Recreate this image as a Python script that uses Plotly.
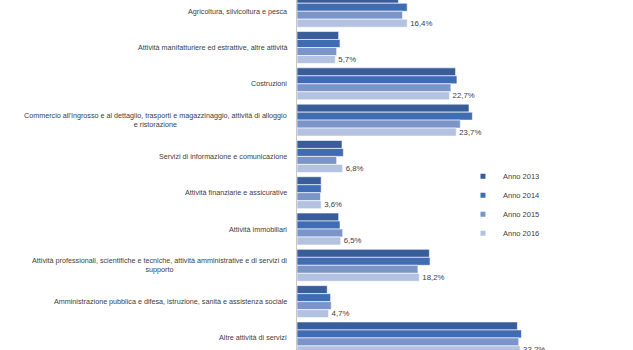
import plotly.graph_objects as go

# Sector labels (top to bottom) and share of each sector per year (%)
categories = [
    "Agricoltura, silvicoltura e pesca",
    "Attività manifatturiere ed estrattive, altre attività",
    "Costruzioni",
    "Commercio all'ingrosso e al dettaglio, trasporti e magazzinaggio, attività di alloggio<br>e ristorazione",
    "Servizi di informazione e comunicazione",
    "Attività finanziarie e assicurative",
    "Attività immobiliari",
    "Attività professionali, scientifiche e tecniche, attività amministrative e di servizi di<br>supporto",
    "Amministrazione pubblica e difesa, istruzione, sanità e assistenza sociale",
    "Altre attività di servizi",
]
years = ["Anno 2013", "Anno 2014", "Anno 2015", "Anno 2016"]
anno_2013 = [15.1, 6.2, 23.6, 25.6, 6.7, 3.6, 6.2, 19.7, 4.5, 32.8]
anno_2014 = [16.4, 6.4, 23.8, 26.1, 6.9, 3.6, 6.4, 19.8, 5.0, 33.4]
anno_2015 = [15.7, 5.9, 22.9, 24.3, 5.9, 3.5, 6.8, 18.0, 5.1, 33.0]
anno_2016 = [16.4, 5.7, 22.7, 23.7, 6.8, 3.6, 6.5, 18.2, 4.7, 33.2]
series = [anno_2013, anno_2014, anno_2015, anno_2016]
colors = ["#385d98", "#3f6cb2", "#7c95c8", "#b4c2e1"]

FONT = "Liberation Sans Narrow, Arial Narrow, Liberation Sans, Arial, sans-serif"
TEXT = "#404040"

idx = list(range(len(categories)))
fig = go.Figure()

for k, (name, vals, col) in enumerate(zip(years, series, colors)):
    is_last = name == years[-1]
    fig.add_trace(go.Bar(
        y=idx, x=vals, orientation="h", name=name,
        marker=dict(color=col, line=dict(color="white", width=0.6)),
        text=[f"{v:.1f}%".replace(".", ",") for v in vals] if is_last else None,
        textposition="outside" if is_last else "none",
        textfont=dict(family=FONT, size=7.8, color=TEXT),
        constraintext="none",
        cliponaxis=False,
        showlegend=False,
    ))
    # compact legend entry with a small square swatch
    fig.add_trace(go.Scatter(
        x=[None], y=[None], mode="markers", name=name,
        marker=dict(symbol="square", size=5, color=col),
    ))

# category labels, centred text block right-aligned against the axis
for i, c in enumerate(categories):
    fig.add_annotation(
        x=0, xref="paper", y=i, yref="y", text=c, showarrow=False,
        xanchor="right", yanchor="middle", align="center", xshift=-8,
        font=dict(family=FONT, size=7.2, color=TEXT),
    )

fig.update_layout(
    width=633, height=350,
    margin=dict(l=297, r=0, t=0, b=0),
    paper_bgcolor="white", plot_bgcolor="white",
    barmode="group", bargap=0.12, bargroupgap=0,
    font=dict(family=FONT, size=8, color=TEXT),
    legend=dict(
        x=0.494, y=0.538, xanchor="left", yanchor="top",
        bgcolor="rgba(0,0,0,0)", font=dict(family=FONT, size=7.5, color=TEXT),
        itemwidth=30, tracegroupgap=0,
    ),
)
fig.update_xaxes(range=[0, 50], visible=False, showgrid=False, zeroline=False)
fig.update_yaxes(
    range=[9.333, -0.309], showticklabels=False, showgrid=False, zeroline=False,
    showline=True, linecolor="#c8c8c8", linewidth=1, ticks="",
)

fig.write_html("out.html")
